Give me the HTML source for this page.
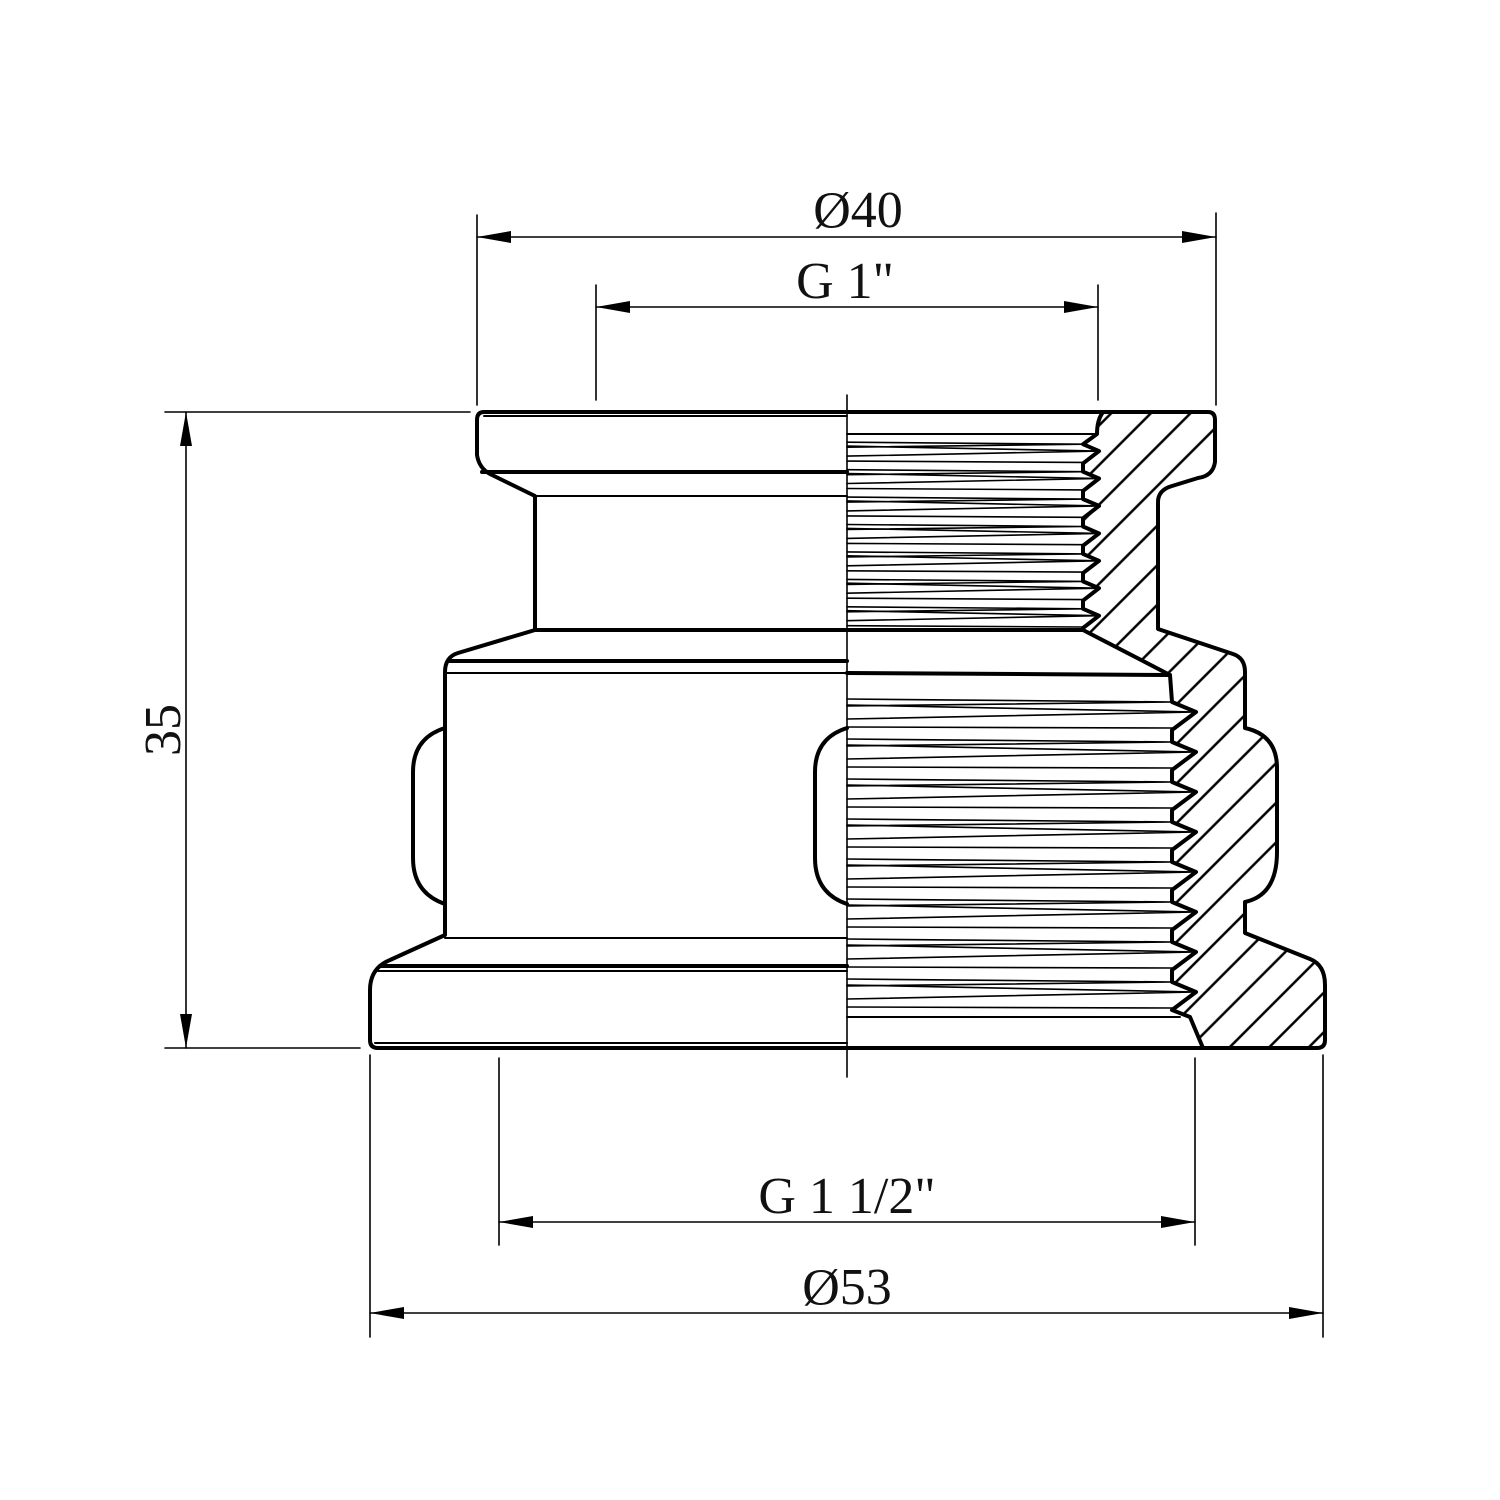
<!DOCTYPE html>
<html><head><meta charset="utf-8"><style>
html,body{margin:0;padding:0;background:#fff}
svg{display:block}
text{font-family:"Liberation Serif",serif;font-size:52px;fill:#111}
</style></head><body>
<svg id="s" width="1500" height="1500" viewBox="0 0 1500 1500" xmlns="http://www.w3.org/2000/svg">
<defs>
<pattern id="h" patternUnits="userSpaceOnUse" width="28" height="28" patternTransform="rotate(-45)">
<line x1="0" y1="14" x2="28" y2="14" stroke="#000" stroke-width="2.6"/>
</pattern>
<clipPath id="c"><path id="secp" d=""/></clipPath>
</defs>
<g fill="none" stroke="#000" stroke-linecap="round" stroke-linejoin="round">
<g stroke-width="1.6">
<line x1="477" y1="215" x2="477" y2="405"/><line x1="1216" y1="213" x2="1216" y2="405"/>
<line x1="477" y1="237" x2="1216" y2="237"/>
<line x1="596" y1="285" x2="596" y2="400"/><line x1="1098" y1="285" x2="1098" y2="400"/>
<line x1="596" y1="307" x2="1098" y2="307"/>
<line x1="165" y1="412" x2="470" y2="412"/><line x1="165" y1="1048" x2="360" y2="1048"/>
<line x1="186" y1="412" x2="186" y2="1048"/>
<line x1="499" y1="1058" x2="499" y2="1245"/><line x1="1195" y1="1058" x2="1195" y2="1245"/>
<line x1="499" y1="1222" x2="1195" y2="1222"/>
<line x1="370" y1="1055" x2="370" y2="1337"/><line x1="1323" y1="1055" x2="1323" y2="1337"/>
<line x1="370" y1="1313" x2="1323" y2="1313"/>
<line x1="847" y1="395" x2="847" y2="1077"/>
</g>
<g fill="#000" stroke="none">
<path d="M477,237 l34,-6 l0,12z"/><path d="M1216,237 l-34,-6 l0,12z"/>
<path d="M596,307 l34,-6 l0,12z"/><path d="M1098,307 l-34,-6 l0,12z"/>
<path d="M186,412 l-6,34 l12,0z"/><path d="M186,1048 l-6,-34 l12,0z"/>
<path d="M499,1222 l34,-6 l0,12z"/><path d="M1195,1222 l-34,-6 l0,12z"/>
<path d="M370,1313 l34,-6 l0,12z"/><path d="M1323,1313 l-34,-6 l0,12z"/>
</g>
<g stroke-width="4">
<path d="M847,412 L484,412 Q477,412 477,420 L477,455 Q479,468 490,474 L535,496 L535,630 L458,653 Q445,657 445,672 L445,935 L390,960 Q370,968 370,990 L370,1040 Q370,1048 378,1048 L847,1048"/>
<line x1="484" y1="416" x2="847" y2="416" stroke-width="2"/>
<line x1="482" y1="472" x2="847" y2="472"/>
<line x1="535" y1="630" x2="847" y2="630"/>
<line x1="450" y1="661" x2="847" y2="661"/>
<line x1="445" y1="673" x2="847" y2="673" stroke-width="2"/>
<line x1="535" y1="496" x2="847" y2="496" stroke-width="2"/>
<line x1="445" y1="938" x2="847" y2="938" stroke-width="2"/>
<line x1="380" y1="966" x2="847" y2="966"/>
<line x1="378" y1="971" x2="847" y2="971" stroke-width="2"/>
<line x1="375" y1="1043" x2="847" y2="1043" stroke-width="2"/>
<path d="M445,728 Q413,738 413,772 L413,858 Q413,893 445,904"/>
<path d="M847,728 Q815,738 815,772 L815,858 Q815,893 847,904"/>
</g>
<rect x="0" y="0" width="1500" height="1500" fill="url(#h)" stroke="none" clip-path="url(#c)"/>
<path id="secs" d="" stroke-width="4"/>
<g id="thr" stroke-width="1.6"></g>
<g stroke-width="4">
<line x1="847" y1="412" x2="1103" y2="412"/>
<line x1="847" y1="1048" x2="1203" y2="1048"/>
<line x1="847" y1="630" x2="1083" y2="630"/>
<line x1="847" y1="673" x2="1170" y2="675"/>
</g>
<g stroke-width="2">
<line x1="847" y1="434" x2="1097" y2="434"/>
<line x1="847" y1="1017" x2="1180" y2="1017"/>
</g>
</g>
<text x="858" y="227" text-anchor="middle">Ø40</text>
<text x="845" y="298" text-anchor="middle">G 1"</text>
<text x="847" y="1213" text-anchor="middle">G 1 1/2"</text>
<text x="847" y="1304" text-anchor="middle">Ø53</text>
<text transform="translate(180,730) rotate(-90)" text-anchor="middle">35</text>
</svg>
<script>
var d="M1103,412 L1208,412 Q1215,412 1215,420 L1215,462 Q1213,476 1198,478 L1172,486 Q1158,490 1158,502 L1158,629 L1233,654 Q1245,658 1245,672 L1245,728 Q1277,735 1277,768 L1277,852 Q1277,895 1245,902 L1245,933 L1310,959 Q1325,965 1325,985 L1325,1040 Q1325,1048 1317,1048 L1203,1048 L1190,1017 ";
var thr="";
var n=8,y0=1010,y1=690,p=(y0-y1)/n;
for(var i=0;i<n;i++){var yr=y0-i*p, yt=yr-p*0.45;
 d+="L1172,"+yr.toFixed(1)+" L1196,"+yt.toFixed(1)+" L1172,"+(yr-p*0.7).toFixed(1)+" ";
 thr+='<path d="M847,'+(yt-7).toFixed(1)+' L1196,'+yt.toFixed(1)+' L847,'+(yt+7).toFixed(1)+'"/>';
 thr+='<path d="M847,'+(yr-p*0.7-3).toFixed(1)+' L1172,'+(yr-p*0.7).toFixed(1)+' L847,'+(yr-p*0.7+4).toFixed(1)+'"/>';
 thr+='<line x1="847" y1="'+(yt+15).toFixed(1)+'" x2="1172" y2="'+(yr-2).toFixed(1)+'"/>';
}
d+="L1170,675 L1083,630 ";
n=7;y0=628;y1=436;p=(y0-y1)/n;
for(i=0;i<n;i++){var yr=y0-i*p, yt=yr-p*0.45;
 d+="L1083,"+yr.toFixed(1)+" L1099,"+yt.toFixed(1)+" L1083,"+(yr-p*0.7).toFixed(1)+" ";
 thr+='<path d="M847,'+(yt-5).toFixed(1)+' L1099,'+yt.toFixed(1)+' L847,'+(yt+5).toFixed(1)+'"/>';
 thr+='<path d="M847,'+(yr-p*0.7-2).toFixed(1)+' L1083,'+(yr-p*0.7).toFixed(1)+' L847,'+(yr-p*0.7+3).toFixed(1)+'"/>';
 thr+='<line x1="847" y1="'+(yt+10).toFixed(1)+'" x2="1083" y2="'+(yr-1).toFixed(1)+'"/>';
}
d+="L1097,434 Q1097,420 1103,412 Z";
document.getElementById("secp").setAttribute("d",d);
document.getElementById("secs").setAttribute("d",d);
document.getElementById("thr").innerHTML=thr;
</script>
</body></html>
